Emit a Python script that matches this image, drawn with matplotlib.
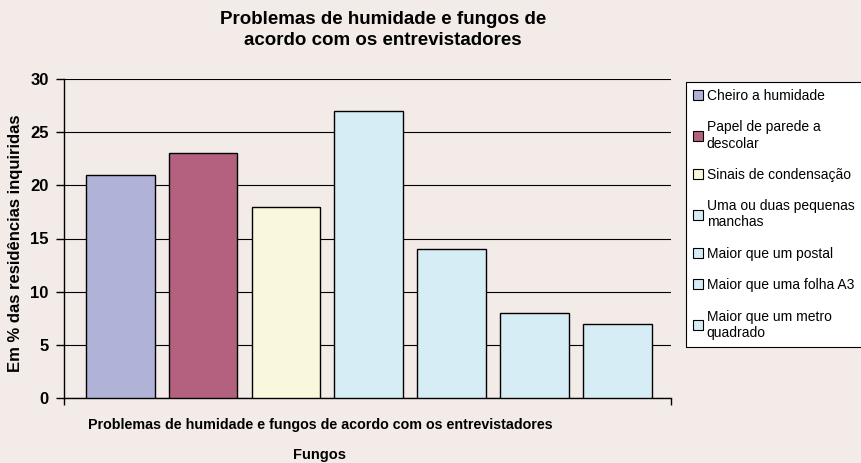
import matplotlib.pyplot as plt
from matplotlib.patches import Patch

plt.rcParams['font.family'] = ['Liberation Sans', 'DejaVu Sans']

categorias = ["Cheiro a humidade", "Papel de parede a\ndescolar", "Sinais de condensação",
              "Uma ou duas pequenas\nmanchas", "Maior que um postal",
              "Maior que uma folha A3", "Maior que um metro\nquadrado"]
valores = [21, 23, 18, 27, 14, 8, 7]
cores = ["#b0b2d8", "#b4607f", "#faf8dc", "#d7edf6", "#d7edf6", "#d7edf6", "#d7edf6"]

fig = plt.figure(figsize=(8.62, 4.63), dpi=100, facecolor="#f3ebe7")
ax = fig.add_axes([64/862, 1-398/463, (671-64)/862, (398-79)/463])
ax.set_facecolor("none")

pos = list(range(len(valores)))
ax.bar(pos, valores, width=0.83, color=cores, edgecolor="black", linewidth=1, zorder=3)

ax.set_ylim(0, 30)
ax.set_xlim(-0.68, 6.65)
ax.set_yticks(range(0, 31, 5))
ax.yaxis.grid(True, color="black", linewidth=0.8, zorder=0)
ax.set_xticks([-0.68, 6.65])
ax.set_xticklabels([])
ax.tick_params(axis="x", direction="out", length=5, width=1)
ax.tick_params(axis="y", direction="out", length=6, width=1, labelsize=12, pad=5)
for t in ax.get_yticklabels():
    t.set_fontweight("bold")
for lado in ["top", "right"]:
    ax.spines[lado].set_visible(False)
ax.spines["left"].set_linewidth(1)
ax.spines["bottom"].set_linewidth(1)

fig.text(16/862, 1-243/463, "Em % das residências inquiridas", rotation=90,
         ha="center", va="center", fontsize=12, fontweight="bold")
fig.text(320/862, 1-425/463, "Problemas de humidade e fungos de acordo com os entrevistadores",
         ha="center", va="center", fontsize=10.3, fontweight="bold")
fig.text(320/862, 1-455/463, "Fungos", ha="center", va="center", fontsize=10.5, fontweight="bold")
fig.text(383/862, 1-30/463, "Problemas de humidade e fungos de\nacordo com os entrevistadores",
         ha="center", va="center", fontsize=13.5, fontweight="bold", linespacing=1.25)

handles = [Patch(facecolor=c, edgecolor="black", linewidth=0.8) for c in cores]
leg = fig.legend(handles, categorias, loc="upper left",
                 bbox_to_anchor=(686/862, 1-82/463), fontsize=10,
                 handlelength=0.7, handleheight=0.7, handletextpad=0.3,
                 labelspacing=1.25, borderpad=0.5, frameon=True, fancybox=False,
                 edgecolor="black", framealpha=1, borderaxespad=0)
leg.get_frame().set_linewidth(0.8)

fig.savefig("out.png", dpi=100, facecolor=fig.get_facecolor())
